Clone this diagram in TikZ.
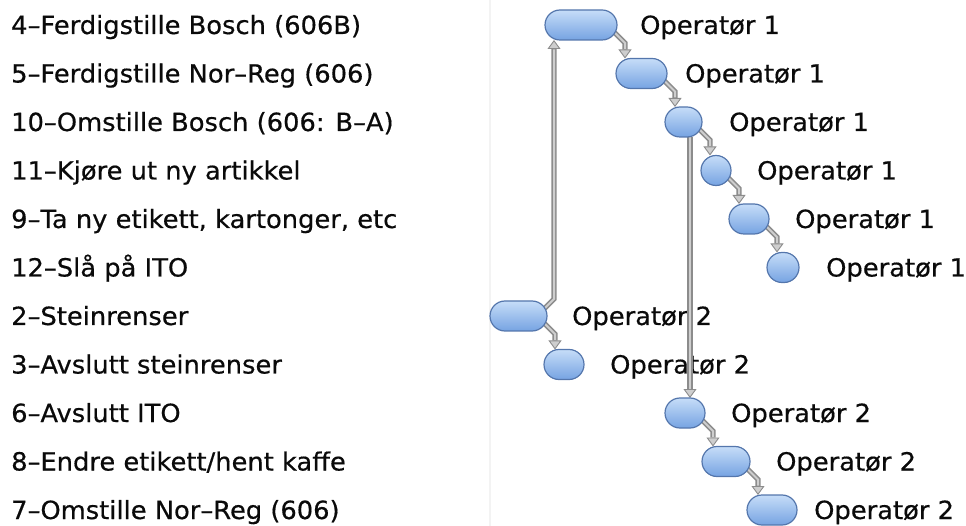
\documentclass[tikz,border=0pt]{standalone}
\usepackage{fontspec}
\setmainfont{DejaVu Sans}[FakeBold=0.5,FakeStretch=1.03]
\usetikzlibrary{arrows.meta,calc,shapes.misc}

\definecolor{taskedge}{RGB}{84,118,172}
\definecolor{tasktop}{RGB}{198,221,248}
\definecolor{taskbottom}{RGB}{118,163,226}
\definecolor{flowedge}{RGB}{140,140,140}
\definecolor{flowfill}{RGB}{206,206,206}
\definecolor{dividercol}{RGB}{243,243,243}
\definecolor{textcol}{RGB}{10,10,10}

\pgfdeclarelayer{textlayer}
\pgfdeclarelayer{flowlayer}
\pgfsetlayers{textlayer,flowlayer,main}

\begin{document}
\begin{tikzpicture}[x=1pt,y=-1pt,
  font=\fontsize{25}{30}\selectfont,
  task/.style={rounded rectangle, draw=taskedge, line width=1.2pt,
    top color=tasktop, bottom color=taskbottom,
    minimum height=30pt, inner sep=0pt, outer sep=0pt},
  tasklabel/.style={anchor=base west, inner sep=0pt, text=textcol},
  oplabel/.style={anchor=base west, inner sep=0pt, text=textcol},
  flow/.style={draw=flowedge, line width=5.2pt,
    -{Triangle[length=9pt,width=13pt,line width=0.9pt,fill=flowfill]},
    postaction={draw=flowfill, line width=2pt, shorten >=9.5pt, -}},
]
\useasboundingbox (0,0) rectangle (966,526);

% faint column divider
\coordinate (divtop) at (490,0);
\coordinate (divbot) at (490,526);
\draw[draw=dividercol, line width=1.5pt] (divtop) -- (divbot);

% task names
\begin{pgfonlayer}{textlayer}
\node[tasklabel] (n4)  at (11, 34)    {4–Ferdigstille Bosch (606B)};
\node[tasklabel] (n5)  at (11, 82.5)  {5–Ferdigstille Nor–Reg (606)};
\node[tasklabel] (n10) at (11, 131)   {10–Omstille Bosch (606: B–A)};
\node[tasklabel] (n11) at (11, 179.5) {11–Kjøre ut ny artikkel};
\node[tasklabel] (n9)  at (11, 228)   {9–Ta ny etikett, kartonger, etc};
\node[tasklabel] (n12) at (11, 276.5) {12–Slå på ITO};
\node[tasklabel] (n2)  at (11, 325)   {2–Steinrenser};
\node[tasklabel] (n3)  at (11, 373.5) {3–Avslutt steinrenser};
\node[tasklabel] (n6)  at (11, 422)   {6–Avslutt ITO};
\node[tasklabel] (n8)  at (11, 470.5) {8–Endre etikett/hent kaffe};
\node[tasklabel] (n7)  at (11, 519)   {7–Omstille Nor–Reg (606)};

% operator labels
\node[oplabel] (o4)  at (640, 34)    {Operatør 1};
\node[oplabel] (o5)  at (685, 82.5)  {Operatør 1};
\node[oplabel] (o10) at (729, 131)   {Operatør 1};
\node[oplabel] (o11) at (757, 179.5) {Operatør 1};
\node[oplabel] (o9)  at (795, 228)   {Operatør 1};
\node[oplabel] (o12) at (826, 276.5) {Operatør 1};
\node[oplabel] (o2)  at (572, 325)   {Operatør 2};
\node[oplabel] (o3)  at (610, 373.5) {Operatør 2};
\node[oplabel] (o6)  at (731, 422)   {Operatør 2};
\node[oplabel] (o8)  at (776, 470.5) {Operatør 2};
\node[oplabel] (o7)  at (814, 519)   {Operatør 2};
\end{pgfonlayer}

% task bars
\node[task, minimum width=72pt] (t4)  at (581, 25)     {};
\node[task, minimum width=51pt] (t5)  at (641.5, 73.5) {};
\node[task, minimum width=37pt] (t10) at (683.5, 122)  {};
\node[task, minimum width=30pt] (t11) at (716, 170.5)  {};
\node[task, minimum width=40pt] (t9)  at (749, 219)    {};
\node[task, minimum width=32pt] (t12) at (783, 267.5)  {};
\node[task, minimum width=57pt] (t2)  at (518.5, 316)  {};
\node[task, minimum width=40pt] (t3)  at (564, 364.5)  {};
\node[task, minimum width=40pt] (t6)  at (685, 413)    {};
\node[task, minimum width=48pt] (t8)  at (726, 461.5)  {};
\node[task, minimum width=50pt] (t7)  at (772, 510)    {};

% precedence arrows
\begin{pgfonlayer}{flowlayer}
\draw[flow] ($(t4.east)+(-3,7)$)  -- ++(11,11) coordinate (k1) -- (k1 |- t5.north);
\draw[flow] ($(t5.east)+(-3,7)$)  -- ++(11,11) coordinate (k2) -- (k2 |- t10.north);
\draw[flow] ($(t10.east)+(-3,7)$) -- ++(11,11) coordinate (k3) -- (k3 |- t11.north);
\draw[flow] ($(t11.east)+(-3,7)$) -- ++(11,11) coordinate (k4) -- (k4 |- t9.north);
\draw[flow] ($(t9.east)+(-3,7)$)  -- ++(11,11) coordinate (k5) -- (k5 |- t12.north);
\draw[flow] ($(t2.east)+(-3,7)$)  -- ++(11,11) coordinate (k6) -- (k6 |- t3.north);
\draw[flow] ($(t2.east)+(-3,-7)$) -- ++(10,-10) coordinate (k7) -- (k7 |- t4.south);
\coordinate (v) at ($(t6.north west)+(10,0)$);
\draw[flow] (t10.south -| v) -- (v);
\draw[flow] ($(t6.east)+(-3,7)$)  -- ++(11,11) coordinate (k8) -- (k8 |- t8.north);
\draw[flow] ($(t8.east)+(-3,7)$)  -- ++(11,11) coordinate (k9) -- (k9 |- t7.north);
\end{pgfonlayer}
\end{tikzpicture}
\end{document}
